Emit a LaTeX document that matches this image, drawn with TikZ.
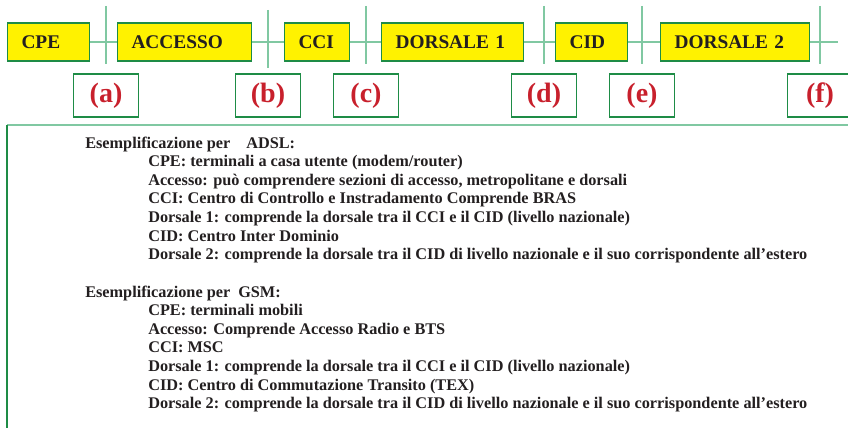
\documentclass[tikz,border=0pt]{standalone}
\usepackage{fontspec}
\setmainfont{Liberation Serif}
\usepackage{tikz}
\usetikzlibrary{positioning,calc}
\definecolor{segyellow}{HTML}{FFF200}
\definecolor{seggreen}{HTML}{1E8C46}
\definecolor{linkgreen}{HTML}{80C8A2}
\definecolor{labred}{HTML}{C8202C}
\definecolor{txtgray}{HTML}{231F20}
\tikzset{seg/.style={draw=seggreen, line width=0.8pt, fill=segyellow, anchor=west, minimum height=28.5pt, inner xsep=10.5pt, inner ysep=0pt, align=left, text=txtgray, font=\fontsize{14.5}{16}\selectfont\bfseries}}
\tikzset{lab/.style={draw=seggreen, line width=0.8pt, minimum width=48.75pt, minimum height=32.25pt, text=labred, font=\fontsize{21}{24}\selectfont\bfseries}}
\tikzset{link/.style={linkgreen, line width=1pt}}
\tikzset{note/.style={anchor=base west, inner sep=0pt, text=txtgray, font=\fontsize{12.2}{14}\selectfont\bfseries}}

\begin{document}
\begin{tikzpicture}[x=0.75pt,y=-0.75pt]
\useasboundingbox (0,0) rectangle (848,428);

% segments of the path
\node[seg, text width=40.5pt] (cpe) at (7,42) {CPE};
\node[seg, text width=79.5pt] (acc) at (117,42) {ACCESSO};
\node[seg, text width=27.75pt] (cci) at (284,42) {CCI};
\node[seg, text width=85.5pt] (dors1) at (381,42) {DORSALE 1};
\node[seg, text width=33pt] (cid) at (555,42) {CID};
\node[seg, text width=90.75pt] (dors2) at (660,42) {DORSALE 2};
\coordinate (tail) at (838,42);

\draw[link] (cpe) -- (acc);
\draw[link] (acc) -- (cci);
\draw[link] (cci) -- (dors1);
\draw[link] (dors1) -- (cid);
\draw[link] (cid) -- (dors2);
\draw[link] (dors2) -- (tail);

% interfaces
\foreach \x/\ya/\yb/\l [count=\i] in {106/6/64/a, 268/10/68/b, 366/6/64/c, 544/6/64/d, 642/6/64/e, 820/6/64/f}
{
  \coordinate (top\i) at (\x,\ya);
  \coordinate (bot\i) at (\x,\yb);
  \draw[link] (top\i) -- (bot\i);
  \node[lab] (lab\l) at (\x,95.5) {(\l)};
}

% panel
\coordinate (pnw) at (7,125);
\coordinate (pne) at (848,125);
\coordinate (psw) at (7,428);
\draw[link] (pnw) -- (pne);
\draw[seggreen, line width=0.8pt] (pnw) -- (psw);

\node[note] (adsl) at (85,148) {Esemplificazione per\hspace{12pt}ADSL:};
\foreach \t [count=\i] in {CPE: terminali a casa utente (modem/router),
  {Accesso: può comprendere sezioni di accesso, metropolitane e dorsali},
  CCI: Centro di Controllo e Instradamento Comprende BRAS,
  Dorsale 1: comprende la dorsale tra il CCI e il CID (livello nazionale),
  CID: Centro Inter Dominio,
  Dorsale 2: comprende la dorsale tra il CID di livello nazionale e il suo corrispondente all’estero}
  \node[note] (adsl\i) at (148,{148+18.65*\i}) {\t};

\node[note] (gsm) at (85,297) {Esemplificazione per\hspace{6pt}GSM:};
\foreach \t [count=\i] in {CPE: terminali mobili,
  Accesso: Comprende Accesso Radio e BTS,
  CCI: MSC,
  Dorsale 1: comprende la dorsale tra il CCI e il CID (livello nazionale),
  CID: Centro di Commutazione Transito (TEX),
  Dorsale 2: comprende la dorsale tra il CID di livello nazionale e il suo corrispondente all’estero}
  \node[note] (gsm\i) at (148,{297+18.65*\i}) {\t};
\end{tikzpicture}
\end{document}
